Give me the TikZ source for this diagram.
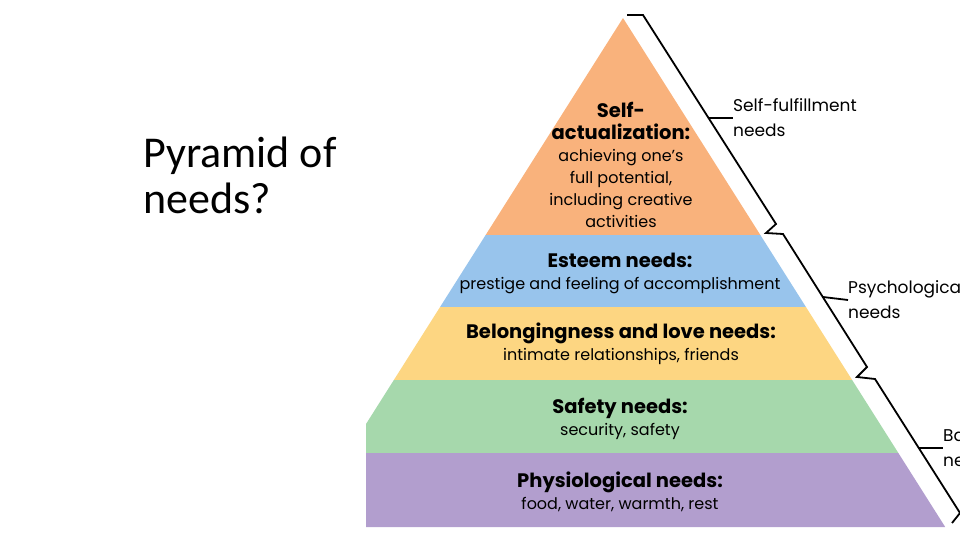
\documentclass[tikz,border=0pt]{standalone}
\usepackage{fontspec}
\setmainfont{Poppins}
\newfontfamily\titlefont{Carlito}
\newcommand\hd[1]{{\fontsize{19.5}{22.5}\selectfont\bfseries #1}}
\definecolor{pyOrange}{RGB}{249,178,124}
\definecolor{pyBlue}{RGB}{152,196,236}
\definecolor{pyYellow}{RGB}{253,214,130}
\definecolor{pyGreen}{RGB}{166,216,172}
\definecolor{pyPurple}{RGB}{178,158,206}
\begin{document}
\begin{tikzpicture}[x=1pt,y=-1pt]
  \tikzset{lt/.style={align=center,inner sep=0pt,font=\fontsize{16}{22}\selectfont},
    side/.style={anchor=west,align=left,inner sep=0pt,font=\fontsize{17}{25}\selectfont}}
  \useasboundingbox (0,0) rectangle (960,540);
  \clip (0,0) rectangle (960,540);
  \begin{scope}
    \clip (366,0) rectangle (960,540);
    \foreach \yt/\yb/\col in {18/235/pyOrange,235/307/pyBlue,307/380/pyYellow,380/453/pyGreen,453/527/pyPurple}
      \fill[\col] ({623-0.633*(\yt-18)},\yt) -- ({623+0.633*(\yt-18)},\yt)
        -- ({623+0.633*(\yb-18)},\yb) -- ({623-0.633*(\yb-18)},\yb) -- cycle;
  \end{scope}
  \node[anchor=north west,inner sep=0pt,align=left,font=\titlefont\fontsize{44}{46}\selectfont] (title) at (143,137) {Pyramid of\\needs?};
  \node[lt] (self) at (621,165) {\hd{Self-}\\\hd{actualization:}\\achieving one’s\\full potential,\\including creative\\activities};
  \node[lt] (esteem) at (620,273) {\hd{Esteem needs:}\\prestige and feeling of accomplishment};
  \node[lt] (love) at (621,344) {\hd{Belongingness and love needs:}\\intimate relationships, friends};
  \node[lt] (safety) at (620,419) {\hd{Safety needs:}\\security, safety};
  \node[lt] (phys) at (620,492) {\hd{Physiological needs:}\\food, water, warmth, rest};
  \draw[line width=1.8pt] (627,15) -- (643,15) -- (776,224) -- (766,233) -- (783,234) -- (867,367)
    -- (857,377) -- (875,379) -- (960,513) -- (952,523);
  \coordinate (t1) at (709,118);
  \coordinate (t2) at (823,297);
  \coordinate (t3) at (919,448);
  \node[side] (fulfil) at (733,118) {Self-fulfillment\\needs};
  \node[side] (psych) at (848,300) {Psychological\\needs};
  \node[side] (basic) at (943,448) {Basic\\needs};
  \draw[line width=1.8pt] (t1) -- (fulfil.west);
  \draw[line width=1.8pt] (t2) -- (psych.west);
  \draw[line width=1.8pt] (t3) -- (basic.west);
\end{tikzpicture}
\end{document}
